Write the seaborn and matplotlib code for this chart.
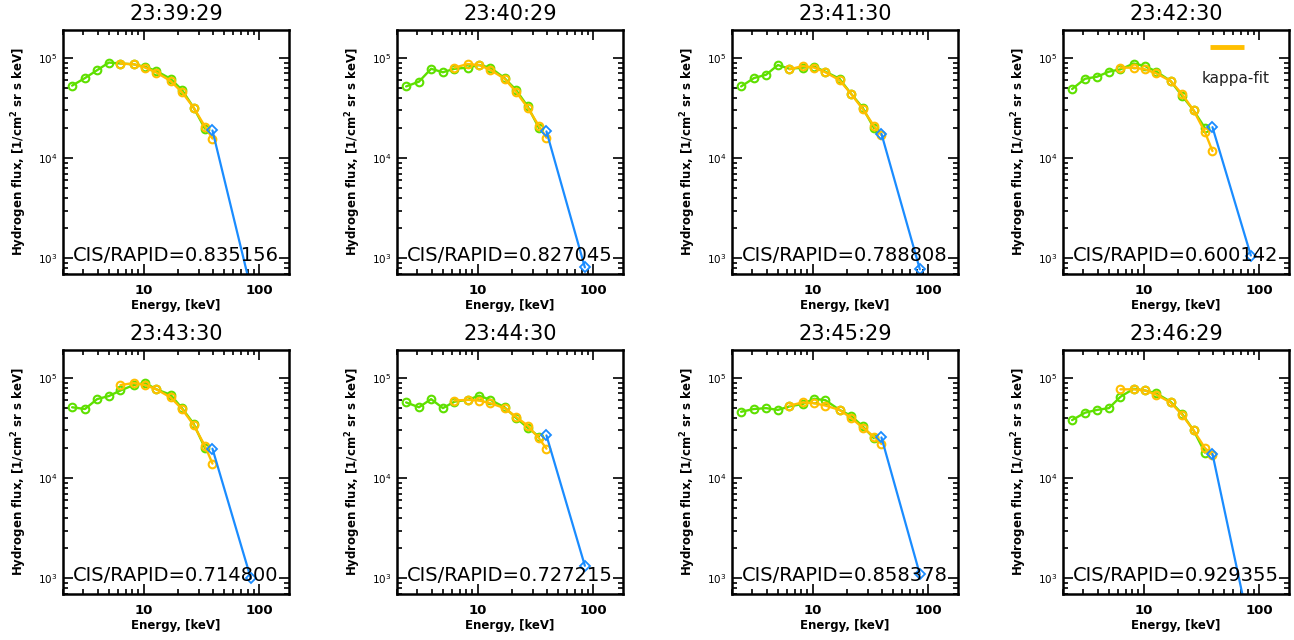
import numpy as np
import matplotlib
matplotlib.use("Agg")
import matplotlib.pyplot as plt
import seaborn as sns
from matplotlib.ticker import LogLocator, FixedLocator, FixedFormatter, NullFormatter

# ---------------- data ----------------
titles = ["23:39:29", "23:40:29", "23:41:30", "23:42:30",
          "23:43:30", "23:44:30", "23:45:29", "23:46:29"]
ratios = ["0.835156", "0.827045", "0.788808", "0.600142",
          "0.714800", "0.727215", "0.858378", "0.929355"]

cis_energy = [2.4, 3.1, 3.95, 5.0, 6.3, 8.2, 10.3, 12.9, 17.1, 21.5, 27.1, 34.0]
fit_energy = [6.3, 8.2, 10.3, 12.9, 17.1, 21.5, 27.1, 34.0, 39.5]
rapid_energy = [39.5, 85.0]

cis_1 = [5.3e4, 6.3e4, 7.55e4, 9.0e4, 8.8e4, 8.65e4, 8.15e4, 7.4e4, 6.2e4, 4.8e4, 3.2e4, 1.97e4]
cis_2 = [5.2e4, 5.8e4, 7.8e4, 7.2e4, 7.8e4, 8.0e4, 8.5e4, 8.0e4, 6.3e4, 4.8e4, 3.3e4, 2.0e4]
cis_3 = [5.2e4, 6.3e4, 6.8e4, 8.5e4, 7.8e4, 8.0e4, 8.2e4, 7.3e4, 6.2e4, 4.4e4, 3.2e4, 2.0e4]
cis_4 = [4.9e4, 6.2e4, 6.5e4, 7.3e4, 7.7e4, 8.8e4, 8.3e4, 7.3e4, 5.9e4, 4.2e4, 3.0e4, 2.0e4]
cis_5 = [5.1e4, 4.9e4, 6.15e4, 6.6e4, 7.5e4, 8.5e4, 8.9e4, 7.7e4, 6.8e4, 5.0e4, 3.5e4, 2.0e4]
cis_6 = [5.7e4, 5.1e4, 6.15e4, 5.0e4, 5.8e4, 6.05e4, 6.65e4, 6.05e4, 5.1e4, 4.0e4, 3.2e4, 2.6e4]
cis_7 = [4.6e4, 4.9e4, 5.0e4, 4.8e4, 5.2e4, 5.5e4, 6.2e4, 6.0e4, 4.8e4, 4.2e4, 3.3e4, 2.5e4]
cis_8 = [3.8e4, 4.5e4, 4.8e4, 5.0e4, 6.5e4, 7.8e4, 7.5e4, 7.0e4, 5.8e4, 4.4e4, 3.0e4, 1.8e4]

fit_1 = [8.8e4, 8.65e4, 8.0e4, 7.15e4, 5.9e4, 4.55e4, 3.2e4, 2.07e4, 1.57e4]
fit_2 = [8.0e4, 8.7e4, 8.5e4, 7.6e4, 6.2e4, 4.6e4, 3.2e4, 2.1e4, 1.6e4]
fit_3 = [7.7e4, 8.3e4, 8.0e4, 7.2e4, 6.0e4, 4.4e4, 3.1e4, 2.1e4, 1.7e4]
fit_4 = [8.0e4, 8.0e4, 7.7e4, 7.0e4, 5.9e4, 4.37e4, 3.0e4, 1.82e4, 1.18e4]
fit_5 = [8.5e4, 8.9e4, 8.5e4, 7.7e4, 6.4e4, 4.9e4, 3.4e4, 2.1e4, 1.4e4]
fit_6 = [5.95e4, 6.05e4, 5.95e4, 5.6e4, 5.0e4, 4.1e4, 3.35e4, 2.5e4, 1.97e4]
fit_7 = [5.3e4, 5.7e4, 5.6e4, 5.3e4, 4.8e4, 4.0e4, 3.2e4, 2.6e4, 2.2e4]
fit_8 = [7.7e4, 7.7e4, 7.5e4, 6.8e4, 5.7e4, 4.3e4, 3.0e4, 2.0e4, 1.7e4]

rapid_1 = [1.89e4, 5.0e2]
rapid_2 = [1.85e4, 8.15e2]
rapid_3 = [1.75e4, 7.8e2]
rapid_4 = [2.04e4, 1.07e3]
rapid_5 = [1.97e4, 1.0e3]
rapid_6 = [2.67e4, 1.34e3]
rapid_7 = [2.55e4, 1.1e3]
rapid_8 = [1.75e4, 2.8e2]

cis_all = [cis_1, cis_2, cis_3, cis_4, cis_5, cis_6, cis_7, cis_8]
fit_all = [fit_1, fit_2, fit_3, fit_4, fit_5, fit_6, fit_7, fit_8]
rapid_all = [rapid_1, rapid_2, rapid_3, rapid_4, rapid_5, rapid_6, rapid_7, rapid_8]

ytick_vals = [1e3, 1e4, 1e5]
ytick_labels = ["$10^{3}$", "$10^{4}$", "$10^{5}$"]
xtick_vals = [10, 100]
xtick_labels = ["10", "100"]

# ---------------- style ----------------
sns.set_style("ticks")
plt.rcParams['font.family'] = ['DejaVu Sans']
plt.rcParams['mathtext.default'] = 'regular'
plt.rcParams['text.color'] = 'black'
plt.rcParams['axes.labelcolor'] = 'black'
plt.rcParams['xtick.color'] = 'black'
plt.rcParams['ytick.color'] = 'black'

GREEN = "#5ee000"
ORANGE = "#ffbf00"
BLUE = "#1a8cff"

fig = plt.figure(figsize=(12.94, 6.40), dpi=100)
W, H = 1294.0, 640.0
lefts = [63, 397, 732, 1063]
tops = [30, 350]
aw, ah = 226, 244

for i in range(8):
    r, c = divmod(i, 4)
    ax = fig.add_axes([lefts[c] / W, 1 - (tops[r] + ah) / H, aw / W, ah / H])
    ax.set_xscale("log")
    ax.set_yscale("log")

    sns.lineplot(x=cis_energy, y=cis_all[i], ax=ax, color=GREEN, lw=1.7,
                 marker="o", markersize=5.5, markerfacecolor="none",
                 markeredgecolor=GREEN, markeredgewidth=1.5, sort=False)
    sns.lineplot(x=fit_energy, y=fit_all[i], ax=ax, color=ORANGE, lw=1.7,
                 marker="o", markersize=5.5, markerfacecolor="none",
                 markeredgecolor=ORANGE, markeredgewidth=1.5, sort=False)
    sns.lineplot(x=rapid_energy, y=rapid_all[i], ax=ax, color=BLUE, lw=1.6,
                 marker="D", markersize=5, markerfacecolor="none",
                 markeredgecolor=BLUE, markeredgewidth=1.3, sort=False)

    ax.set_xlim(2.0, 182)
    ax.set_ylim(7.0e2, 1.9e5)

    ax.xaxis.set_major_locator(FixedLocator(xtick_vals))
    ax.xaxis.set_major_formatter(FixedFormatter(xtick_labels))
    ax.xaxis.set_minor_locator(LogLocator(base=10, subs=np.arange(2, 10)))
    ax.xaxis.set_minor_formatter(NullFormatter())
    ax.yaxis.set_major_locator(FixedLocator(ytick_vals))
    ax.yaxis.set_major_formatter(FixedFormatter(ytick_labels))
    ax.yaxis.set_minor_locator(LogLocator(base=10, subs=np.arange(2, 10)))
    ax.yaxis.set_minor_formatter(NullFormatter())

    ax.tick_params(which="both", direction="in", top=True, right=True,
                   color="black", width=1.2)
    ax.tick_params(which="major", length=7)
    ax.tick_params(which="minor", length=3.5)
    ax.tick_params(axis="x", which="major", labelsize=9.5, pad=7)
    ax.tick_params(axis="y", which="major", labelsize=7.5, pad=4)
    for lab in ax.get_xticklabels():
        lab.set_fontweight("bold")

    for sp in ax.spines.values():
        sp.set_visible(True)
        sp.set_linewidth(1.8)
        sp.set_color("black")

    ax.set_title(titles[i], fontsize=15, pad=7, color="black")
    ax.set_xlabel("Energy, [keV]", fontsize=8.5, fontweight="bold", labelpad=2)
    ax.set_ylabel("Hydrogen flux, [1/cm$^2$ sr s keV]", fontsize=8.5,
                  fontweight="bold")
    ax.yaxis.set_label_coords(-0.15, 0.5)

    ax.text(0.045, 0.035, "CIS/RAPID=" + ratios[i], transform=ax.transAxes,
            fontsize=14, ha="left", va="bottom", color="black")

    if i == 3:
        ax.plot([0.65, 0.80], [0.93, 0.93], transform=ax.transAxes,
                color=ORANGE, lw=3.5, solid_capstyle="butt")
        ax.text(0.615, 0.80, "kappa-fit", transform=ax.transAxes,
                fontsize=11, ha="left", va="center", color="#222222")

fig.savefig("out.png", dpi=100)
